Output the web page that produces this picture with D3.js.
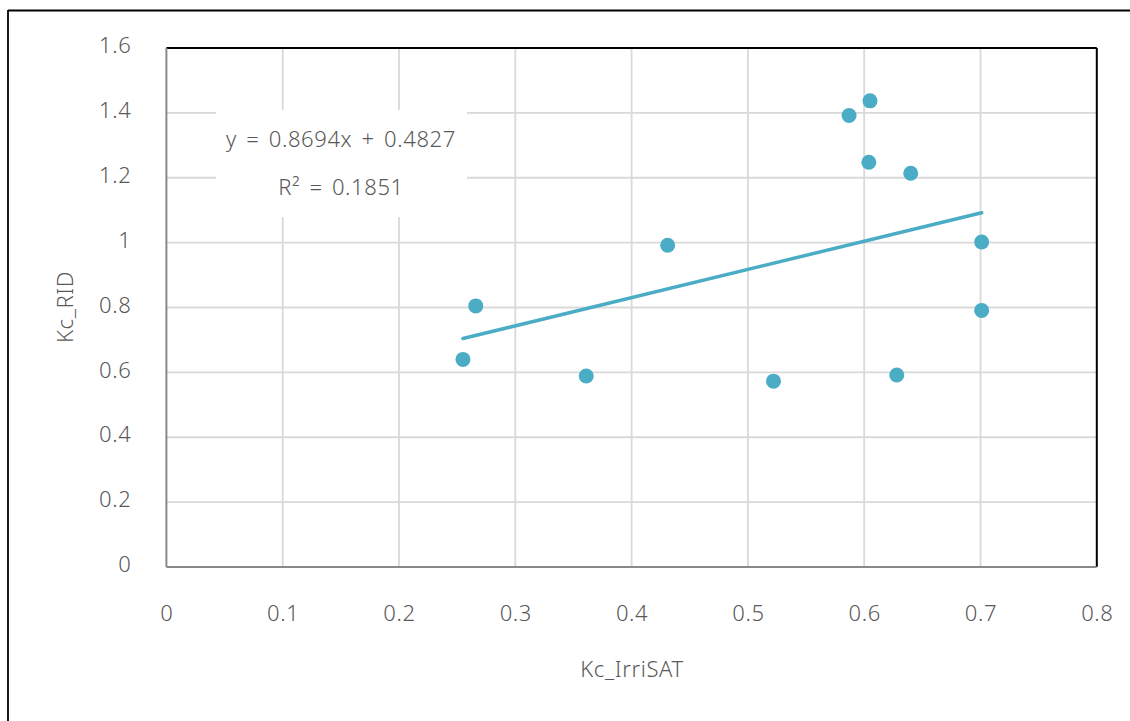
<!DOCTYPE html>
<html>
<head>
<meta charset="utf-8">
<script src="https://cdn.jsdelivr.net/npm/d3@7"></script>
<style>
html,body{margin:0;padding:0;background:#fff;}
svg{display:block;}
text{font-family:"Noto Sans","Open Sans",sans-serif;fill:#595959;font-weight:300;letter-spacing:0.6px;}
</style>
</head>
<body>
<svg id="chart" width="1130" height="721"></svg>
<script>
// Data
const kcIrriSAT = [0.255, 0.266, 0.361, 0.431, 0.522, 0.587, 0.605, 0.604, 0.640, 0.701, 0.701, 0.628];
const kcRID     = [0.640, 0.805, 0.589, 0.992, 0.573, 1.392, 1.437, 1.248, 1.214, 1.002, 0.791, 0.592];
const xTicks = [0, 0.1, 0.2, 0.3, 0.4, 0.5, 0.6, 0.7, 0.8];
const yTicks = [0, 0.2, 0.4, 0.6, 0.8, 1.0, 1.2, 1.4, 1.6];
const trendSlope = [0.8694];
const trendIntercept = [0.4827];
const equationText = ["y = 0.8694x + 0.4827", "R² = 0.1851"];
const xTitle = "Kc_IrriSAT";
const yTitle = "Kc_RID";

const svg = d3.select("#chart");
const L = 166.4, R = 1096.8, T = 48, B = 567;
const x = d3.scaleLinear().domain([0, 0.8]).range([L, R]);
const y = d3.scaleLinear().domain([0, 1.6]).range([B, T]);
const color = "#4bacc6";
const FS = 22;

// outer frame (top and left)
svg.append("line").attr("x1", 8).attr("x2", 1130).attr("y1", 10.5).attr("y2", 10.5)
  .attr("stroke", "#000").attr("stroke-width", 1.8);
svg.append("line").attr("x1", 8).attr("x2", 8).attr("y1", 10).attr("y2", 721)
  .attr("stroke", "#000").attr("stroke-width", 1.8);

// gridlines
const grid = svg.append("g");
grid.selectAll(".vg").data(xTicks.filter(d => d > 0 && d < 0.8)).enter().append("line")
  .attr("x1", d => x(d)).attr("x2", d => x(d)).attr("y1", T).attr("y2", B)
  .attr("stroke", "#d9d9d9").attr("stroke-width", 1.8);
grid.selectAll(".hg").data(yTicks.filter(d => d > 0 && d < 1.6)).enter().append("line")
  .attr("x1", L).attr("x2", R).attr("y1", d => y(d)).attr("y2", d => y(d))
  .attr("stroke", "#d9d9d9").attr("stroke-width", 1.8);

// plot borders
svg.append("line").attr("x1", L).attr("x2", R).attr("y1", T).attr("y2", T).attr("stroke", "#000").attr("stroke-width", 2);
svg.append("line").attr("x1", R).attr("x2", R).attr("y1", T).attr("y2", B).attr("stroke", "#000").attr("stroke-width", 2);
svg.append("line").attr("x1", L).attr("x2", L).attr("y1", T).attr("y2", B).attr("stroke", "#898989").attr("stroke-width", 2);
svg.append("line").attr("x1", L).attr("x2", R).attr("y1", B).attr("y2", B).attr("stroke", "#898989").attr("stroke-width", 2);

const fmt = d => String(+d.toFixed(1));

// tick labels via axes
const xAxis = svg.append("g").attr("transform", `translate(0,${B})`)
  .call(d3.axisBottom(x).tickValues(xTicks).tickSize(0).tickPadding(0).tickFormat(fmt));
xAxis.select(".domain").remove();
xAxis.selectAll("text").attr("y", 46).attr("dy", "0.35em").attr("font-size", FS).attr("fill", "#595959")
  .style("font-family", '"Noto Sans","Open Sans",sans-serif');

const yAxis = svg.append("g").attr("transform", `translate(${L},0)`)
  .call(d3.axisLeft(y).tickValues(yTicks).tickSize(0).tickPadding(0).tickFormat(fmt));
yAxis.select(".domain").remove();
yAxis.selectAll("text").attr("x", -35).attr("dy", "0.35em").attr("font-size", FS).attr("fill", "#595959")
  .style("font-family", '"Noto Sans","Open Sans",sans-serif')
  .attr("transform", "translate(0,-3)");

// trendline
const xMin = d3.min(kcIrriSAT), xMax = d3.max(kcIrriSAT);
const trend = [xMin, xMax].map(v => [v, trendSlope[0] * v + trendIntercept[0]]);
svg.append("path").datum(trend)
  .attr("d", d3.line().x(d => x(d[0])).y(d => y(d[1])))
  .attr("stroke", color).attr("stroke-width", 3.5).attr("fill", "none").attr("stroke-linecap", "round");

// points
svg.append("g").selectAll("circle").data(kcIrriSAT.map((v, i) => [v, kcRID[i]])).enter().append("circle")
  .attr("cx", d => x(d[0])).attr("cy", d => y(d[1])).attr("r", 7.5).attr("fill", color);

// equation label box
svg.append("rect").attr("x", 216).attr("y", 110).attr("width", 251).attr("height", 107).attr("fill", "#fff");
svg.append("text").attr("x", 341).attr("y", 139).attr("dy", "0.35em").attr("text-anchor", "middle")
  .attr("font-size", FS).style("word-spacing", "3px").text(equationText[0]);
svg.append("text").attr("x", 341).attr("y", 187).attr("dy", "0.35em").attr("text-anchor", "middle")
  .attr("font-size", FS).style("word-spacing", "3px").text(equationText[1]);

// axis titles
svg.append("text").attr("x", 632).attr("y", 669).attr("dy", "0.35em").attr("text-anchor", "middle")
  .attr("font-size", FS).text(xTitle);
svg.append("text").attr("transform", "translate(65,307) rotate(-90)").attr("dy", "0.35em")
  .attr("text-anchor", "middle").attr("font-size", FS).text(yTitle);
</script>
</body>
</html>
